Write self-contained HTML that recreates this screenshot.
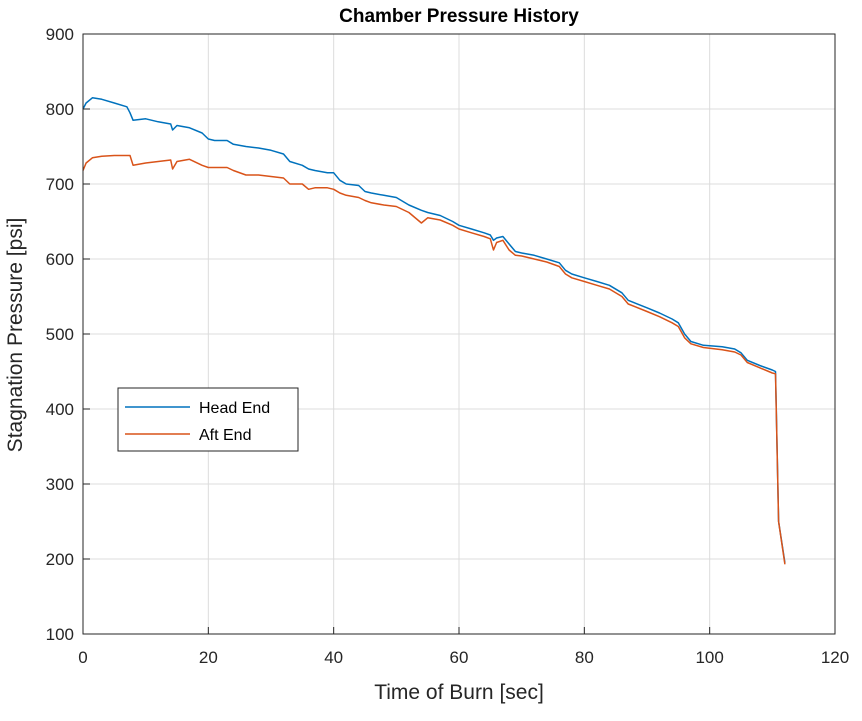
<!DOCTYPE html>
<html><head><meta charset="utf-8"><style>
body{margin:0;background:#fff;}
svg text{font-family:"Liberation Sans",Arial,sans-serif;}
</style></head><body>
<svg id="chart" width="862" height="716" viewBox="0 0 862 716">
<rect x="0" y="0" width="862" height="716" fill="#fff"/>
<g id="grid"></g>
<g id="series"></g>
<rect x="83" y="34" width="752" height="600" fill="none" stroke="#262626" stroke-width="1"/>
<g id="ticks"></g>
<text x="459" y="22" text-anchor="middle" font-size="19" font-weight="bold" fill="#000">Chamber Pressure History</text>
<text x="459" y="699" text-anchor="middle" font-size="21" fill="#262626">Time of Burn [sec]</text>
<text transform="translate(22,335) rotate(-90)" text-anchor="middle" font-size="21" fill="#262626">Stagnation Pressure [psi]</text>
<g>
<rect x="118" y="388" width="180" height="63" fill="#fff" stroke="#262626" stroke-width="1"/>
<line x1="125" y1="407" x2="190" y2="407" stroke="#0072BD" stroke-width="1.5"/>
<text x="199" y="413" font-size="16" fill="#000">Head End</text>
<line x1="125" y1="434" x2="190" y2="434" stroke="#D95319" stroke-width="1.5"/>
<text x="199" y="440" font-size="16" fill="#000">Aft End</text>
</g>
</svg>
<script>
const times=[0,0.5,1.5,3,5,7,7.5,8,10,12,14,14.3,15,17,19,20,21,23,24,26,28,30,32,33,35,36,37,39,40,41,42,44,45,46,48,50,52,54,55,57,59,60,62,64,65,65.5,66,67,68,69,70,72,74,76,77,78,80,82,84,86,87,90,92,94,95,96,97,99,102,104,105,106,108,110,110.5,111,112];
const headEnd=[800,808,815,813,808,803,795,785,787,783,780,772,778,775,768,760,758,758,753,750,748,745,740,730,725,720,718,715,715,705,700,698,690,688,685,682,672,665,662,658,650,645,640,635,632,625,628,630,620,610,608,605,600,595,585,580,575,570,565,555,545,535,528,520,515,500,490,485,483,480,475,465,458,452,450,250,195];
const aftEnd=[718,728,735,737,738,738,738,725,728,730,732,720,730,733,725,722,722,722,718,712,712,710,708,700,700,693,695,695,693,688,685,682,678,675,672,670,662,648,655,652,645,640,635,630,627,612,622,625,612,605,604,600,596,590,580,575,570,565,560,550,540,530,523,515,510,495,487,482,479,476,472,462,455,448,447,250,193];
const xTicks=[0,20,40,60,80,100,120];
const yTicks=[100,200,300,400,500,600,700,800,900];
const NS="http://www.w3.org/2000/svg";
const X=v=>83+(v-0)/120*752;
const Y=v=>634-(v-100)/800*600;
const grid=document.getElementById('grid'),ticks=document.getElementById('ticks'),ser=document.getElementById('series');
function mk(tag,attrs,parent){const e=document.createElementNS(NS,tag);for(const k in attrs)e.setAttribute(k,attrs[k]);parent.appendChild(e);return e;}
xTicks.forEach(t=>{
 const g=mk('line',{x1:X(t),x2:X(t),y1:34,y2:634,stroke:'#dcdcdc','stroke-width':1},grid);
 
 
 const tk=mk('line',{x1:X(t),x2:X(t),y1:634,y2:627,stroke:'#262626'},ticks);
 
 
 const tx=mk('text',{x:X(t),y:663,'text-anchor':'middle','font-size':17,fill:'#262626'},ticks);
 tx.textContent=t;
 
 
});
yTicks.forEach(t=>{
 const g=mk('line',{x1:83,x2:835,y1:Y(t),y2:Y(t),stroke:'#dcdcdc','stroke-width':1},grid);
 
 
 const tk=mk('line',{x1:83,x2:90,y1:Y(t),y2:Y(t),stroke:'#262626'},ticks);
 
 
 const tx=mk('text',{x:74,y:Y(t)+6,'text-anchor':'end','font-size':17,fill:'#262626'},ticks);
 tx.textContent=t;
 
 
});
function line(vals,color,name){
 const d=vals.map((v,i)=>(i?'L':'M')+X(times[i]).toFixed(1)+' '+Y(v).toFixed(1)).join(' ');
 const p=mk('path',{d:d,fill:'none',stroke:color,'stroke-width':1.5,'stroke-linejoin':'round'},ser);
 
 
}
line(headEnd,'#0072BD','head-end-line');
line(aftEnd,'#D95319','aft-end-line');
</script>
</body></html>
